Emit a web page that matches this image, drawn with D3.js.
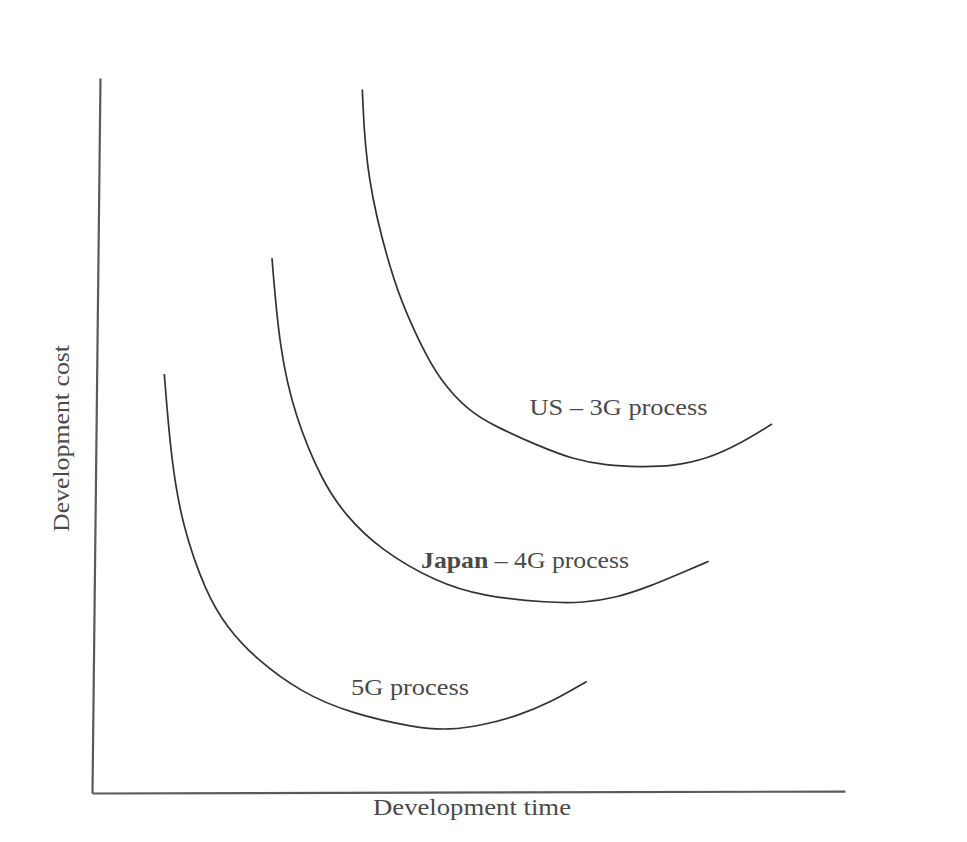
<!DOCTYPE html>
<html>
<head>
<meta charset="utf-8">
<script src="https://cdnjs.cloudflare.com/ajax/libs/d3/7.8.5/d3.min.js"></script>
<style>
  body { margin: 0; background: #fff; }
  text { font-family: "Liberation Serif", "DejaVu Serif", serif; fill: #4a4a4a; }
</style>
</head>
<body>
<div id="plot"></div>
<script>
// curve data (arbitrary units, 0-100)
var us3gTime   = [35.9, 36.4, 39.9, 41.7, 43.7, 46.1, 50.1, 53.7, 59.4, 63.8, 68.3, 72.7, 77.1, 81.6, 86.0, 90.3];
var us3gCost   = [98.4, 86.0, 72.0, 67.3, 62.6, 57.9, 53.3, 51.2, 48.5, 46.7, 45.8, 45.6, 45.7, 46.7, 48.8, 51.6];
var japan4gTime = [23.9, 24.9, 26.9, 30.6, 33.7, 38.2, 45.7, 51.9, 60.8, 65.2, 69.6, 74.1, 78.5, 81.9];
var japan4gCost = [74.8, 62.1, 52.8, 43.5, 38.8, 34.1, 29.5, 27.5, 26.6, 26.6, 27.3, 28.9, 30.9, 32.4];
var g5Time     = [9.6, 10.5, 12.0, 15.1, 17.8, 21.8, 27.9, 34.2, 43.0, 47.5, 51.9, 56.3, 60.8, 65.7];
var g5Cost     = [58.6, 46.7, 37.3, 28.1, 23.3, 18.7, 14.0, 11.2, 9.1, 8.8, 9.5, 10.7, 12.6, 15.6];

// curve labels and where they sit (data units)
var labelBold = ["", "Japan", ""];
var labelText = ["US \u2013 3G process", " \u2013 4G process", "5G process"];
var labelTime = [58.1, 43.7, 34.4];
var labelCost = [52.8, 31.5, 13.7];

var margin = {top: 78, right: 122, bottom: 49, left: 92},
    width = 967 - margin.left - margin.right,
    height = 842 - margin.top - margin.bottom;

var x = d3.scaleLinear().domain([0, 100]).range([0, width]);
var y = d3.scaleLinear().domain([0, 100]).range([height, 0]);

var svg = d3.select("#plot").append("svg")
    .attr("width", 967)
    .attr("height", 842)
  .append("g")
    .attr("transform", "translate(" + margin.left + "," + margin.top + ")");

// axes without ticks (the scan is slightly tilted)
svg.append("g")
    .attr("transform", "rotate(0.64,0," + height + ")")
    .call(d3.axisLeft(y).ticks(0).tickSizeOuter(0));
svg.append("g")
    .attr("transform", "rotate(-0.15,0," + height + ") translate(0," + height + ")")
    .call(d3.axisBottom(x).ticks(0).tickSizeOuter(0));
svg.selectAll(".domain").attr("stroke", "#5a5a5a").attr("stroke-width", 2.2);

var line = d3.line()
    .x(function(d) { return x(d[0]); })
    .y(function(d) { return y(d[1]); })
    .curve(d3.curveBasis);

[[us3gTime, us3gCost], [japan4gTime, japan4gCost], [g5Time, g5Cost]].forEach(function(s) {
  svg.append("path")
      .datum(d3.zip(s[0], s[1]))
      .attr("fill", "none")
      .attr("stroke", "#333")
      .attr("stroke-width", 1.7)
      .attr("d", line);
});

// curve labels
var labelWidths = [178, 208, 118];
labelText.forEach(function(txt, i) {
  var t = svg.append("text")
      .attr("x", x(labelTime[i]))
      .attr("y", y(labelCost[i]))
      .attr("font-size", 24)
      .attr("textLength", labelWidths[i])
      .attr("lengthAdjust", "spacingAndGlyphs");
  if (labelBold[i]) t.append("tspan").attr("font-weight", "bold").text(labelBold[i]);
  t.append("tspan").text(txt);
});

// axis titles
svg.append("text")
    .attr("x", 373 - margin.left)
    .attr("y", 815 - margin.top)
    .attr("font-size", 24)
    .attr("textLength", 198)
    .attr("lengthAdjust", "spacingAndGlyphs")
    .text("Development time");

svg.append("text")
    .attr("transform", "translate(" + (69 - margin.left) + "," + (532 - margin.top) + ") rotate(-90)")
    .attr("font-size", 24)
    .attr("textLength", 187)
    .attr("lengthAdjust", "spacingAndGlyphs")
    .text("Development cost");
</script>
</body>
</html>
